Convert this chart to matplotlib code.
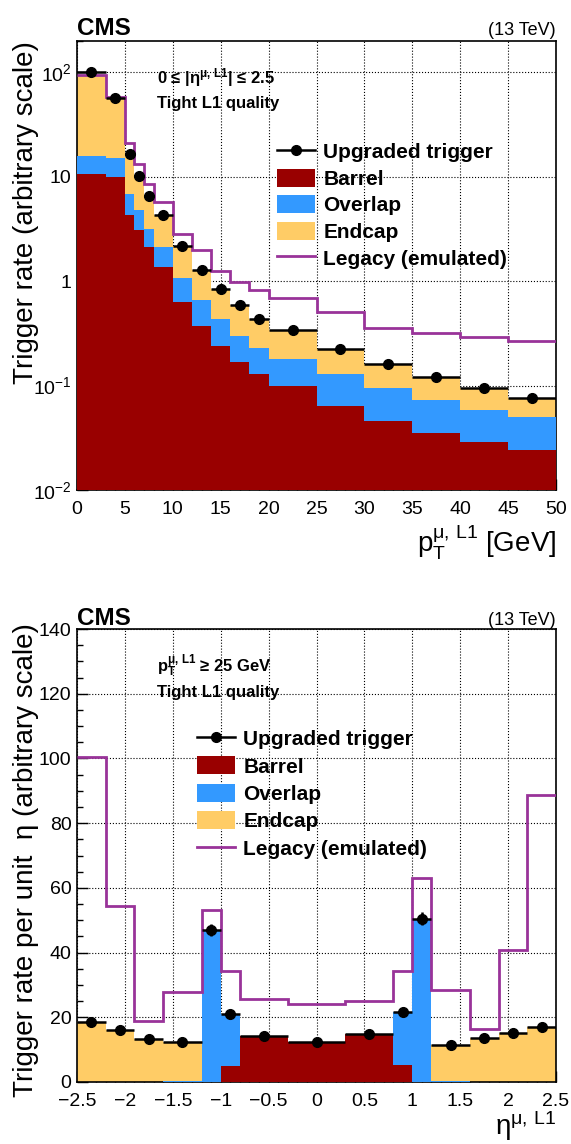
import matplotlib.pyplot as plt
import numpy as np
from matplotlib.ticker import MultipleLocator, FixedLocator, FixedFormatter, LogLocator, NullFormatter, FuncFormatter
from matplotlib.patches import Patch
from matplotlib.lines import Line2D

plt.rcParams['font.family'] = ['Liberation Sans', 'DejaVu Sans']
plt.rcParams['mathtext.fontset'] = 'custom'
plt.rcParams['mathtext.rm'] = 'Liberation Sans'
plt.rcParams['mathtext.it'] = 'Liberation Sans:italic'
plt.rcParams['mathtext.bf'] = 'Liberation Sans:bold'
plt.rcParams['mathtext.default'] = 'regular'

# --- pT spectrum (top) ---
pt_edges = [0, 3, 5, 6, 7, 8, 10, 12, 14, 16, 18, 20, 25, 30, 35, 40, 45, 50]
pt_upgraded = [100, 57, 16.5, 10.2, 6.5, 4.3, 2.16, 1.29, 0.84, 0.59, 0.43, 0.34, 0.225, 0.16, 0.12, 0.094, 0.076]
pt_upgraded_err = [1.0, 0.7, 0.3, 0.2, 0.15, 0.1, 0.05, 0.04, 0.03, 0.02, 0.02, 0.01, 0.01, 0.008, 0.007, 0.006, 0.005]
pt_barrel = [10.7, 10.0, 4.35, 3.1, 2.13, 1.37, 0.63, 0.37, 0.24, 0.17, 0.128, 0.10, 0.064, 0.046, 0.035, 0.029, 0.024]
pt_overlap = [5.3, 5.1, 2.45, 1.7, 1.02, 0.76, 0.45, 0.29, 0.19, 0.13, 0.102, 0.08, 0.065, 0.049, 0.037, 0.030, 0.026]
pt_endcap = [76, 41.9, 9.7, 5.4, 3.35, 2.17, 1.08, 0.63, 0.41, 0.29, 0.20, 0.16, 0.096, 0.065, 0.048, 0.035, 0.026]
pt_legacy = [95, 58, 21, 13.4, 8.5, 5.8, 2.86, 1.98, 1.26, 0.99, 0.83, 0.69, 0.51, 0.36, 0.32, 0.29, 0.27]

# --- eta distribution (bottom) ---
eta_edges = [-2.5, -2.2, -1.9, -1.6, -1.2, -1.0, -0.8, -0.3, 0.3, 0.8, 1.0, 1.2, 1.6, 1.9, 2.2, 2.5]
eta_upgraded = [18.4, 16.2, 13.2, 12.4, 46.9, 21.0, 14.2, 12.4, 14.7, 21.6, 50.4, 11.4, 13.5, 15.0, 16.9]
eta_upgraded_err = [0.8, 0.7, 0.6, 0.6, 1.8, 1.0, 0.6, 0.5, 0.6, 1.0, 2.0, 0.6, 0.6, 0.6, 0.7]
eta_barrel = [0, 0, 0, 0, 0, 4.9, 14.2, 12.4, 14.7, 5.2, 0, 0, 0, 0, 0]
eta_overlap = [0, 0, 0, 0.3, 46.9, 16.1, 0, 0, 0, 16.4, 50.4, 0.3, 0, 0, 0]
eta_endcap = [18.4, 16.2, 13.2, 12.1, 0, 0, 0, 0, 0, 0, 0, 11.1, 13.5, 15.0, 16.9]
eta_legacy = [100.3, 54.3, 18.9, 27.8, 53.3, 34.3, 25.7, 24.2, 25.0, 34.2, 62.9, 28.5, 16.3, 40.7, 88.7]

c_barrel = '#990000'
c_overlap = '#3399ff'
c_endcap = '#ffcc66'
c_legacy = '#993399'

fig = plt.figure(figsize=(5.71, 11.44), dpi=100)
W, H = 571, 1144
ax1 = fig.add_axes([77 / W, 1 - 490 / H, 479 / W, 449 / H])
ax2 = fig.add_axes([77 / W, 1 - 1082 / H, 479 / W, 453 / H])


def draw(ax, edges, upg, err, barrel, overlap, endcap, legacy, base):
    edges = np.array(edges)
    centers = 0.5 * (edges[1:] + edges[:-1])
    halfw = 0.5 * (edges[1:] - edges[:-1])
    b = np.array(barrel)
    bo = b + np.array(overlap)
    tot = bo + np.array(endcap)
    ax.stairs(tot, edges, fill=True, color=c_endcap, baseline=base, zorder=2)
    ax.stairs(bo, edges, fill=True, color=c_overlap, baseline=base, zorder=3)
    ax.stairs(b, edges, fill=True, color=c_barrel, baseline=base, zorder=4)
    ax.stairs(legacy, edges, color=c_legacy, lw=2, baseline=None, zorder=5)
    ax.errorbar(centers, upg, xerr=halfw, yerr=err, fmt='o', color='black',
                ms=7, elinewidth=1.8, capsize=0, zorder=6)


def style(ax):
    ax.set_axisbelow(True)
    ax.grid(which='major', color='black', linestyle=':', linewidth=0.8)
    ax.tick_params(which='both', direction='in', top=False, right=False, labelsize=14)
    ax.tick_params(which='major', length=8, width=1)
    ax.tick_params(which='minor', length=4, width=1)
    ax.tick_params(axis='x', pad=8)
    ax.tick_params(axis='y', pad=4)
    for s in ax.spines.values():
        s.set_linewidth(1.2)


leg_handles = [
    Line2D([], [], color='black', marker='o', ms=7, lw=1.8),
    Patch(facecolor=c_barrel),
    Patch(facecolor=c_overlap),
    Patch(facecolor=c_endcap),
    Line2D([], [], color=c_legacy, lw=2),
]
leg_labels = ['Upgraded trigger', 'Barrel', 'Overlap', 'Endcap', 'Legacy (emulated)']

# top panel
draw(ax1, pt_edges, pt_upgraded, pt_upgraded_err, pt_barrel, pt_overlap, pt_endcap, pt_legacy, 1e-3)
ax1.set_yscale('log')
ax1.set_xlim(0, 50)
ax1.set_ylim(0.01, 200)
ax1.xaxis.set_major_locator(MultipleLocator(5))
ax1.xaxis.set_minor_locator(MultipleLocator(1))
ax1.yaxis.set_major_locator(FixedLocator([0.01, 0.1, 1, 10, 100]))
ax1.yaxis.set_major_formatter(FixedFormatter(['$10^{-2}$', '$10^{-1}$', '1', '10', '$10^{2}$']))
ax1.yaxis.set_minor_locator(LogLocator(base=10, subs=np.arange(2, 10)))
ax1.yaxis.set_minor_formatter(NullFormatter())
style(ax1)
ax1.set_ylabel('Trigger rate (arbitrary scale)', fontsize=20, loc='top')
ax1.yaxis.set_label_coords(-0.079, 1.0)
ax1.text(1.0, -0.140, r'p$_{T}^{\mu,\,L1}$ [GeV]', transform=ax1.transAxes,
         ha='right', va='baseline', fontsize=20)
ax1.text(0.0, 1.013, 'CMS', transform=ax1.transAxes, ha='left', va='baseline',
         fontsize=17.5, fontweight='bold')
ax1.text(1.0, 1.013, '(13 TeV)', transform=ax1.transAxes, ha='right', va='baseline', fontsize=13)
ax1.text(80 / 479, 1 - (83 - 41) / 449, r'0 ≤ |η$^{\mu,\,L1}$| ≤ 2.5', transform=ax1.transAxes,
         fontsize=12, fontweight='bold', va='baseline')
ax1.text(80 / 479, 1 - (108 - 41) / 449, 'Tight L1 quality', transform=ax1.transAxes,
         fontsize=12, fontweight='bold', va='baseline')
ax1.legend(leg_handles, leg_labels, loc='upper left', bbox_to_anchor=((277 - 77) / 479, (490 - 142) / 449),
           frameon=False, prop={'weight': 'bold', 'size': 15}, borderpad=0, handlelength=1.8,
           handleheight=0.95, handletextpad=0.42, labelspacing=0.31, borderaxespad=0)

# bottom panel
draw(ax2, eta_edges, eta_upgraded, eta_upgraded_err, eta_barrel, eta_overlap, eta_endcap, eta_legacy, 0)
ax2.set_xlim(-2.5, 2.5)
ax2.set_ylim(0, 140)
ax2.xaxis.set_major_locator(MultipleLocator(0.5))
ax2.xaxis.set_major_formatter(FuncFormatter(lambda v, p: ('%g' % v).replace('-', '\u2212')))
ax2.xaxis.set_minor_locator(MultipleLocator(0.1))
ax2.yaxis.set_major_locator(MultipleLocator(20))
ax2.yaxis.set_minor_locator(MultipleLocator(5))
style(ax2)
ax2.set_ylabel('Trigger rate per unit  η (arbitrary scale)', fontsize=20, loc='top')
ax2.yaxis.set_label_coords(-0.079, 1.013)
ax2.text(1.0, -0.117, r'$\eta^{\mu,\,L1}$', transform=ax2.transAxes,
         ha='right', va='baseline', fontsize=20)
ax2.text(0.0, 1.009, 'CMS', transform=ax2.transAxes, ha='left', va='baseline',
         fontsize=17.5, fontweight='bold')
ax2.text(1.0, 1.009, '(13 TeV)', transform=ax2.transAxes, ha='right', va='baseline', fontsize=13)
ax2.text(80 / 479, 1 - (672 - 629) / 453, r'p$_{T}^{\mu,\,L1}$ ≥ 25 GeV', transform=ax2.transAxes,
         fontsize=12, fontweight='bold', va='baseline')
ax2.text(80 / 479, 1 - (697 - 629) / 453, 'Tight L1 quality', transform=ax2.transAxes,
         fontsize=12, fontweight='bold', va='baseline')
ax2.legend(leg_handles, leg_labels, loc='upper left', bbox_to_anchor=((197 - 77) / 479, (1082 - 729) / 453),
           frameon=False, prop={'weight': 'bold', 'size': 15}, borderpad=0, handlelength=1.8,
           handleheight=0.95, handletextpad=0.42, labelspacing=0.35, borderaxespad=0)

fig.savefig('out.png', dpi=100)
